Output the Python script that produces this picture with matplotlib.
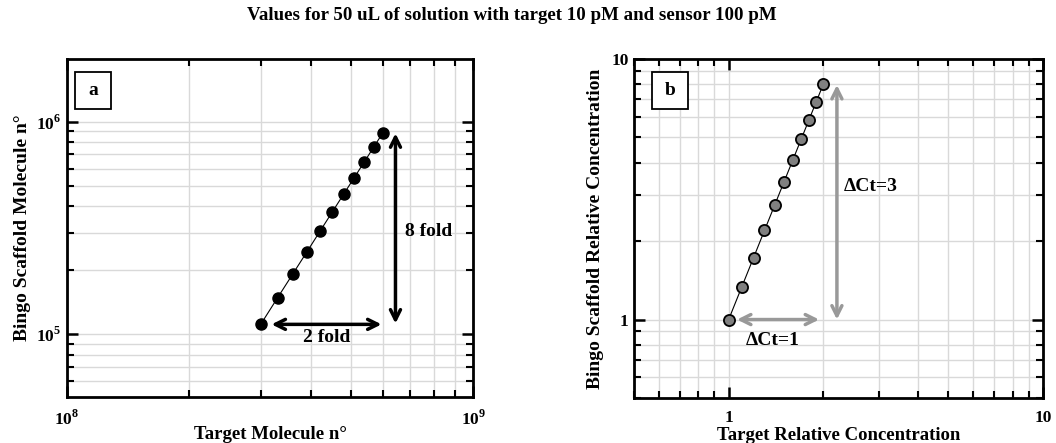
import numpy as np
import matplotlib
matplotlib.use('Agg')
import matplotlib.pyplot as plt
from matplotlib.patches import Rectangle
from matplotlib.ticker import LogLocator, FixedLocator, FixedFormatter, NullFormatter

plt.rcParams['font.family'] = ['Liberation Serif', 'DejaVu Serif']
plt.rcParams['font.weight'] = 'bold'
plt.rcParams['axes.labelweight'] = 'bold'
plt.rcParams['mathtext.fontset'] = 'custom'
plt.rcParams['mathtext.rm'] = 'Liberation Serif:bold'
plt.rcParams['mathtext.bf'] = 'Liberation Serif:bold'

# panel a: molecule counts
target_molecules = [3.0e8, 3.3e8, 3.6e8, 3.9e8, 4.2e8, 4.5e8, 4.8e8, 5.1e8, 5.4e8, 5.7e8, 6.0e8]
scaffold_molecules = [1.11e5, 1.48e5, 1.92e5, 2.44e5, 3.05e5, 3.75e5, 4.55e5, 5.45e5, 6.47e5, 7.61e5, 8.88e5]

# panel b: relative concentrations
target_rel = [1.0, 1.1, 1.2, 1.3, 1.4, 1.5, 1.6, 1.7, 1.8, 1.9, 2.0]
scaffold_rel = [1.0, 1.331, 1.728, 2.197, 2.744, 3.375, 4.096, 4.913, 5.832, 6.859, 8.0]

title = 'Values for 50 uL of solution with target 10 pM and sensor 100 pM'

fig = plt.figure(figsize=(10.56, 4.43), dpi=100)
axa = fig.add_axes([0.0634, 0.1038, 0.3846, 0.763])
axb = fig.add_axes([0.6004, 0.1016, 0.3873, 0.7652])

grid_col = '#d9d9d9'
fs = 14


def _style(ax):
    ax.set_xscale('log')
    ax.set_yscale('log')
    for s in ax.spines.values():
        s.set_linewidth(2.0)
    ax.tick_params(which='major', direction='in', length=8, width=1.8,
                   top=True, right=True, labelsize=12.5)
    ax.tick_params(axis='x', which='major', pad=9)
    ax.tick_params(axis='y', which='major', pad=4)
    ax.tick_params(which='minor', direction='in', length=5, width=1.5,
                   top=True, right=True)
    ax.grid(True, which='both', color=grid_col, linewidth=1.0)
    ax.set_axisbelow(True)


def _panel_box(ax, letter, x0):
    ax.add_patch(Rectangle((x0, 0.852), 0.089, 0.109, transform=ax.transAxes,
                           fc='white', ec='black', lw=1.3, zorder=5))
    ax.text(x0 + 0.0445, 0.9065, letter, transform=ax.transAxes,
            ha='center', va='center', fontsize=fs, zorder=6)


# ---- panel a ----
_style(axa)
axa.set_xlim(1e8, 1e9)
axa.set_ylim(5.05e4, 1.97e6)
axa.xaxis.set_major_locator(FixedLocator([1e8, 1e9]))
axa.xaxis.set_major_formatter(FixedFormatter([r'$10^{8}$', r'$10^{9}$']))
axa.yaxis.set_major_locator(FixedLocator([1e5, 1e6]))
axa.yaxis.set_major_formatter(FixedFormatter([r'$10^{5}$', r'$10^{6}$']))
axa.xaxis.set_minor_locator(LogLocator(base=10, subs=np.arange(2, 10)))
axa.yaxis.set_minor_locator(LogLocator(base=10, subs=np.arange(2, 10)))
axa.xaxis.set_minor_formatter(NullFormatter())
axa.yaxis.set_minor_formatter(NullFormatter())

axa.plot(target_molecules, scaffold_molecules, '-', color='black', lw=0.8,
         marker='o', ms=8, mfc='black', mec='black', zorder=3)
axa.annotate('', xy=(5.95e8, 1.11e5), xytext=(3.19e8, 1.11e5),
             arrowprops=dict(arrowstyle='<->', color='black', lw=2.5,
                             mutation_scale=18, shrinkA=0, shrinkB=0))
axa.annotate('', xy=(6.44e8, 8.8e5), xytext=(6.44e8, 1.12e5),
             arrowprops=dict(arrowstyle='<->', color='black', lw=2.5,
                             mutation_scale=18, shrinkA=0, shrinkB=0))
axa.text(4.36e8, 0.96e5, '2 fold', ha='center', va='center', fontsize=fs)
axa.text(6.78e8, 3.03e5, '8 fold', ha='left', va='center', fontsize=fs)
_panel_box(axa, 'a', 0.0197)
axa.set_xlabel('Target Molecule n°', fontsize=13.5)
axa.xaxis.set_label_coords(0.5, -0.086)
axa.set_ylabel('Bingo Scaffold Molecule n°', fontsize=fs, labelpad=4)

# ---- panel b ----
_style(axb)
axb.set_xlim(0.5, 10)
axb.set_ylim(0.5, 10)
for axis in (axb.xaxis, axb.yaxis):
    axis.set_major_locator(FixedLocator([1, 10]))
    axis.set_major_formatter(FixedFormatter(['1', '10']))
    axis.set_minor_locator(LogLocator(base=10, subs=np.arange(2, 10)))
    axis.set_minor_formatter(NullFormatter())

axb.plot(target_rel, scaffold_rel, '-', color='black', lw=0.8,
         marker='o', ms=8, mfc='#808080', mec='black', mew=1.3, zorder=3)
axb.annotate('', xy=(1.94, 1.0), xytext=(1.063, 1.0),
             arrowprops=dict(arrowstyle='<->', color='#999999', lw=2.5,
                             mutation_scale=18, shrinkA=0, shrinkB=0))
axb.annotate('', xy=(2.21, 7.95), xytext=(2.21, 1.0),
             arrowprops=dict(arrowstyle='<->', color='#999999', lw=2.5,
                             mutation_scale=18, shrinkA=0, shrinkB=0))
axb.text(1.38, 0.83, 'ΔCt=1', ha='center', va='center', fontsize=fs)
axb.text(2.33, 3.25, 'ΔCt=3', ha='left', va='center', fontsize=fs)
_panel_box(axb, 'b', 0.044)
axb.set_xlabel('Target Relative Concentration', fontsize=13.5)
axb.xaxis.set_label_coords(0.5, -0.086)
axb.set_ylabel('Bingo Scaffold Relative Concentration', fontsize=fs, labelpad=5)

fig.text(0.485, 0.966, title, ha='center', va='center', fontsize=13.6)

fig.savefig('out.png', dpi=100)
